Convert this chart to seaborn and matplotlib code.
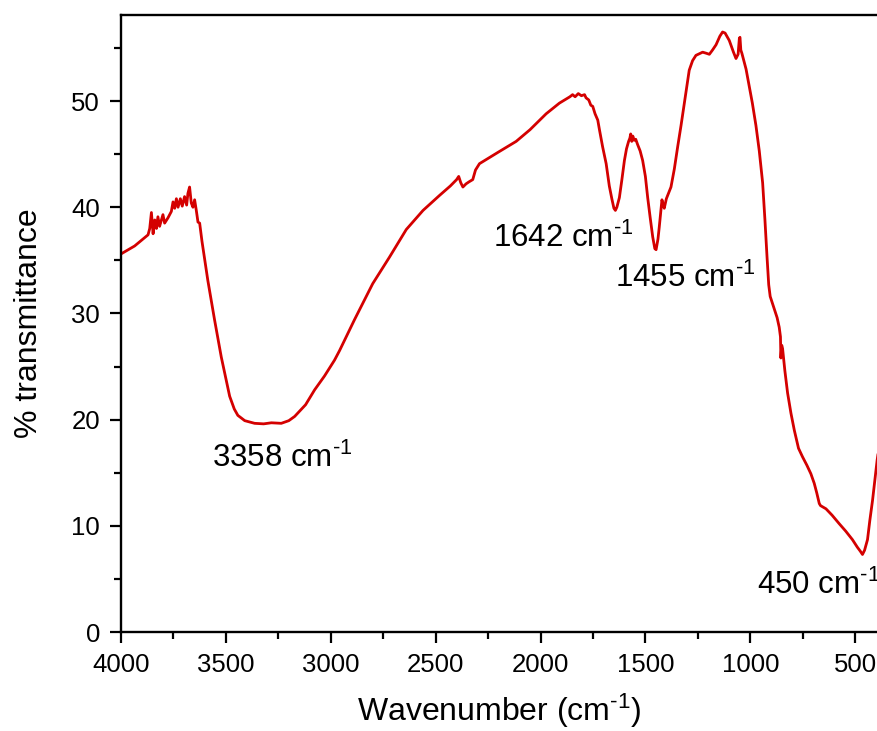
import matplotlib
matplotlib.use("Agg")
import matplotlib.pyplot as plt
import seaborn as sns
import pandas as pd
from matplotlib.ticker import MultipleLocator

# ---- data ----
wavenumber = [4000, 3935, 3871, 3863, 3855, 3847, 3839, 3831, 3824, 3816, 3800, 3792,
              3776, 3760, 3752, 3744, 3736, 3728, 3717, 3708, 3697, 3687, 3681, 3673,
              3665, 3657, 3649, 3641, 3633, 3625, 3614, 3586, 3554, 3522, 3482, 3460,
              3443, 3410, 3363, 3320, 3283, 3236, 3200, 3172, 3120, 3077, 3030, 2982,
              2958, 2887, 2800, 2720, 2640, 2560, 2482, 2430, 2400, 2390, 2380, 2370,
              2355, 2340, 2323, 2310, 2291, 2200, 2116, 2050, 1973, 1910, 1860, 1847,
              1835, 1820, 1805, 1790, 1783, 1770, 1760, 1751, 1740, 1727, 1719, 1704,
              1687, 1672, 1660, 1650, 1643, 1636, 1624, 1612, 1600, 1590, 1580, 1574,
              1570, 1565, 1560, 1553, 1546, 1537, 1525, 1513, 1500, 1489, 1477, 1465,
              1455, 1449, 1440, 1434, 1421, 1415, 1410, 1400, 1378, 1362, 1346, 1330,
              1314, 1300, 1291, 1275, 1259, 1227, 1210, 1195, 1180, 1163, 1145, 1132,
              1120, 1100, 1080, 1068, 1058, 1052, 1049, 1045, 1040, 1020, 1005, 990,
              973, 957, 941, 930, 920, 912, 905, 890, 872, 862, 856, 854, 850, 846,
              835, 822, 806, 790, 770, 751, 730, 711, 695, 683, 671, 665, 639, 610,
              576, 545, 513, 490, 475, 465, 455, 441, 430, 417, 405, 395, 390]
transmittance = [35.6, 36.35, 37.4, 38.0, 39.5, 37.5, 38.8, 38.0, 39.1, 38.2, 39.3, 38.5,
                 39.0, 39.6, 40.5, 39.9, 40.8, 40.0, 40.8, 40.1, 41.0, 40.2, 41.3, 41.9,
                 40.4, 40.0, 40.7, 39.7, 38.6, 38.5, 36.8, 33.1, 29.4, 25.9, 22.2, 21.0,
                 20.4, 19.9, 19.65, 19.6, 19.7, 19.65, 19.9, 20.3, 21.4, 22.8, 24.1, 25.6,
                 26.5, 29.4, 32.8, 35.3, 37.9, 39.7, 41.1, 42.0, 42.6, 42.9, 42.3, 41.9,
                 42.2, 42.4, 42.6, 43.5, 44.1, 45.2, 46.2, 47.3, 48.8, 49.8, 50.4, 50.6,
                 50.4, 50.7, 50.5, 50.6, 50.3, 50.1, 49.6, 49.5, 48.8, 48.2, 47.3, 45.7,
                 44.1, 42.0, 40.8, 39.9, 39.7, 40.0, 40.9, 42.6, 44.4, 45.5, 46.2, 46.5,
                 46.9, 46.2, 46.7, 46.3, 46.4, 45.9, 45.3, 44.4, 42.9, 40.9, 39.0, 37.2,
                 36.1, 36.0, 37.0, 38.1, 40.7, 40.2, 39.9, 40.8, 41.9, 43.6, 45.7, 47.7,
                 49.8, 51.7, 52.9, 53.8, 54.3, 54.6, 54.5, 54.4, 54.8, 55.3, 56.1, 56.5,
                 56.4, 55.7, 54.6, 54.0, 54.4, 55.9, 56.0, 54.8, 54.5, 53.0, 51.4, 49.8,
                 47.7, 45.3, 42.3, 38.8, 35.3, 32.7, 31.6, 30.7, 29.6, 28.7, 27.8, 25.8,
                 27.0, 26.7, 24.6, 22.5, 20.6, 19.0, 17.3, 16.5, 15.7, 14.9, 14.0, 13.1,
                 12.1, 11.9, 11.6, 11.0, 10.2, 9.5, 8.7, 8.0, 7.6, 7.3, 7.7, 8.7, 10.5,
                 12.4, 14.5, 16.2, 16.9]

peak_labels = ["3358", "1642", "1455", "450"]
label_x = [3565, 2228, 1645, 966]
label_y = [15.5, 36.3, 32.5, 3.6]

x_ticks = [4000, 3500, 3000, 2500, 2000, 1500, 1000, 500]
y_ticks = [0, 10, 20, 30, 40, 50]

sns.set_theme(style="ticks")
plt.rcParams["font.family"] = ["Liberation Sans", "DejaVu Sans"]
plt.rcParams["mathtext.fontset"] = "custom"
plt.rcParams["mathtext.rm"] = "Liberation Sans"
plt.rcParams["mathtext.default"] = "rm"
for key in ["text.color", "axes.labelcolor", "xtick.color", "ytick.color",
            "axes.edgecolor"]:
    plt.rcParams[key] = "black"

df = pd.DataFrame({"wavenumber": wavenumber, "transmittance": transmittance})

fig = plt.figure(figsize=(8.78, 7.31), dpi=100)
ax = fig.add_axes([121 / 878, 1 - 632 / 731, (878 - 121) / 878, (632 - 15) / 731])

sns.lineplot(data=df, x="wavenumber", y="transmittance", sort=False, estimator=None,
             color="#d40000", linewidth=2.0, ax=ax)

ax.set_xlim(4000, 391)
ax.set_ylim(0, 58.1)
ax.set_xticks(x_ticks)
ax.set_yticks(y_ticks)
ax.xaxis.set_minor_locator(MultipleLocator(250))
ax.yaxis.set_minor_locator(MultipleLocator(5))
ax.tick_params(which="major", direction="out", length=8, width=1.6, labelsize=18.5,
               colors="black", pad=7)
ax.tick_params(which="minor", direction="out", length=5, width=1.6)

for side in ["left", "bottom", "top"]:
    ax.spines[side].set_visible(True)
    ax.spines[side].set_linewidth(1.7)
    ax.spines[side].set_color("black")
ax.spines["right"].set_visible(False)

sup = "$^{\u2010 1}$"
ax.set_xlabel("Wavenumber (cm" + sup + ")", fontsize=23, labelpad=11)
ax.set_ylabel("% transmittance", fontsize=23, labelpad=20)

for lab, lx, ly in zip(peak_labels, label_x, label_y):
    ax.text(lx, ly, lab + " cm" + sup, fontsize=22.5, ha="left", va="baseline",
            color="black")

fig.savefig("out.png", dpi=100)
